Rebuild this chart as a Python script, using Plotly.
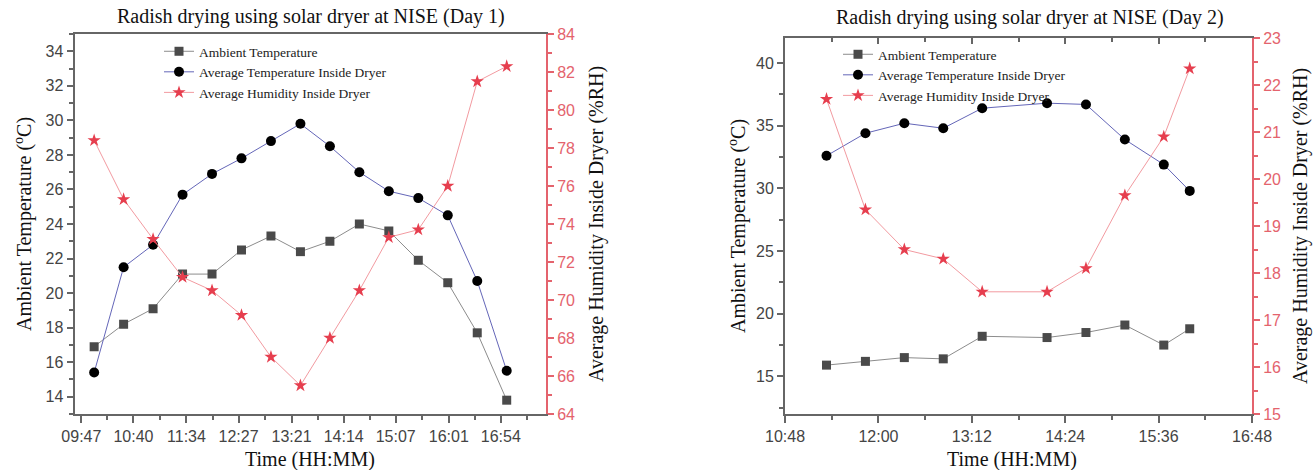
import plotly.graph_objects as go

W, H = 1314, 470

# ---------------- data ----------------
day1_times = ["10:00", "10:30", "11:00", "11:30", "12:00", "12:30", "13:00", "13:30",
              "14:00", "14:30", "15:00", "15:30", "16:00", "16:30", "17:00"]
day1_ambient = [16.9, 18.2, 19.1, 21.1, 21.1, 22.5, 23.3, 22.4, 23.0, 24.0, 23.6, 21.9, 20.6, 17.7, 13.8]
day1_inside = [15.4, 21.5, 22.8, 25.7, 26.9, 27.8, 28.8, 29.8, 28.5, 27.0, 25.9, 25.5, 24.5, 20.7, 15.5]
day1_humidity = [78.4, 75.3, 73.2, 71.2, 70.5, 69.2, 67.0, 65.5, 68.0, 70.5, 73.3, 73.7, 76.0, 81.5, 82.3]

day2_times = ["11:20", "11:50", "12:20", "12:50", "13:20", "14:10", "14:40", "15:10", "15:40", "16:00"]
day2_ambient = [15.9, 16.2, 16.5, 16.4, 18.2, 18.1, 18.5, 19.1, 17.5, 18.8]
day2_inside = [32.6, 34.4, 35.2, 34.8, 36.4, 36.8, 36.7, 33.9, 31.9, 29.8]
day2_humidity = [21.7, 19.35, 18.5, 18.3, 17.6, 17.6, 18.1, 19.65, 20.9, 22.35]

day1_xticks = ["09:47", "10:40", "11:34", "12:27", "13:21", "14:14", "15:07", "16:01", "16:54"]
day2_xticks = ["10:48", "12:00", "13:12", "14:24", "15:36", "16:48"]

series_names = ["Ambient Temperature", "Average Temperature Inside Dryer", "Average Humidity Inside Dryer"]


def to_min(s):
    h, m = s.split(":")
    return int(h) * 60 + int(m)


def mids(vals, extend=True):
    out = [(a + b) / 2 for a, b in zip(vals[:-1], vals[1:])]
    if extend:
        step = vals[1] - vals[0]
        out = [vals[0] - step / 2] + out + [vals[-1] + step / 2]
    return out


# ---------------- style ----------------
AMB_MARK, AMB_LINE = "#4a4a4a", "#8c8c8c"
IN_MARK, IN_LINE = "#000000", "#6466b8"
HUM_MARK, HUM_LINE = "#e63e4e", "#f29aa0"
RED = "#e4636d"
AX = "#666666"
TICKFONT = dict(family="Liberation Sans, Arial, sans-serif", size=16, color="#444444")
SERIF = "Liberation Serif, Times New Roman, serif"


def px_x(p):
    return p / W


def px_y(p):
    return 1 - p / H


fig = go.Figure()


def add_day(times, amb, ins, hum, xa, ya, yb, legend):
    x = [to_min(t) for t in times]
    fig.add_trace(go.Scatter(x=x, y=amb, name=series_names[0], mode="lines+markers",
                             line=dict(color=AMB_LINE, width=1),
                             marker=dict(symbol="square", size=9, color=AMB_MARK),
                             xaxis=xa, yaxis=ya, legend=legend))
    fig.add_trace(go.Scatter(x=x, y=ins, name=series_names[1], mode="lines+markers",
                             line=dict(color=IN_LINE, width=1),
                             marker=dict(symbol="circle", size=10, color=IN_MARK),
                             xaxis=xa, yaxis=ya, legend=legend))
    fig.add_trace(go.Scatter(x=x, y=hum, name=series_names[2], mode="lines+markers",
                             line=dict(color=HUM_LINE, width=1),
                             marker=dict(symbol="star", size=10, color=HUM_MARK),
                             xaxis=xa, yaxis=yb, legend=legend))


add_day(day1_times, day1_ambient, day1_inside, day1_humidity, "x", "y", "y2", "legend")
add_day(day2_times, day2_ambient, day2_inside, day2_humidity, "x2", "y3", "y4", "legend2")
# empty trace to activate the top tick axis of the right panel
fig.add_trace(go.Scatter(x=[], y=[], xaxis="x3", yaxis="y3", showlegend=False, hoverinfo="skip"))

d1_tv = [to_min(t) for t in day1_xticks]
d2_tv = [to_min(t) for t in day2_xticks]

common_x = dict(showline=True, linecolor=AX, linewidth=2, ticks="outside", ticklen=7, tickwidth=1.5,
                tickcolor=AX, showgrid=False, zeroline=False, tickfont=TICKFONT, tickmode="array",
                automargin=False)
common_y = dict(showline=True, linecolor=AX, linewidth=2, ticks="outside", ticklen=6, tickwidth=1.5,
                tickcolor=AX, showgrid=False, zeroline=False, tickfont=TICKFONT, automargin=False)
red_y = dict(showline=True, linecolor=RED, linewidth=2, ticks="outside", ticklen=6, tickwidth=1.5,
             tickcolor=RED, showgrid=False, zeroline=False, automargin=False,
             tickfont=dict(family=TICKFONT["family"], size=16, color=RED))

L_DOM = [px_x(74.5), px_x(546)]
R_DOM = [px_x(785), px_x(1252)]
L_YDOM = [px_y(414), px_y(34)]
R_YDOM = [px_y(414), px_y(38)]

fig.update_layout(
    width=W, height=H,
    margin=dict(l=0, r=0, t=0, b=0, pad=0),
    paper_bgcolor="white", plot_bgcolor="white",
    showlegend=True,
    xaxis=dict(domain=L_DOM, range=[580, 1060], anchor="y", mirror=True,
               tickvals=d1_tv, ticktext=day1_xticks,
               minor=dict(tickmode="array", tickvals=mids(d1_tv), ticks="outside", ticklen=4,
                          tickcolor=AX, tickwidth=1.5), **common_x),
    yaxis=dict(domain=L_YDOM, range=[13, 35], anchor="x", tick0=14, dtick=2,
               minor=dict(dtick=1, tick0=13, ticks="outside", ticklen=4, tickcolor=AX, tickwidth=1.5),
               **common_y),
    yaxis2=dict(overlaying="y", side="right", anchor="x", range=[64, 84], tick0=64, dtick=2,
                minor=dict(dtick=1, tick0=64, ticks="outside", ticklen=4, tickcolor=RED, tickwidth=1.5),
                **red_y),
    xaxis2=dict(domain=R_DOM, range=[648, 1008], anchor="y3", mirror=True,
                tickvals=d2_tv, ticktext=day2_xticks,
                minor=dict(tickmode="array", tickvals=mids(d2_tv, extend=False), ticks="outside", ticklen=4,
                           tickcolor=AX, tickwidth=1.5), **common_x),
    xaxis3=dict(overlaying="x2", side="top", anchor="y3", range=[648, 1008], showline=False,
                tickmode="array", tickvals=d2_tv, showticklabels=False, ticks="inside", ticklen=6,
                tickcolor=AX, tickwidth=1.5, showgrid=False, zeroline=False, automargin=False,
                minor=dict(tickmode="array", tickvals=mids(d2_tv, extend=False), ticks="inside", ticklen=4,
                           tickcolor=AX, tickwidth=1.5)),
    yaxis3=dict(domain=R_YDOM, range=[12, 42], anchor="x2", tick0=15, dtick=5,
                minor=dict(dtick=2.5, tick0=12.5, ticks="outside", ticklen=4, tickcolor=AX, tickwidth=1.5),
                **common_y),
    yaxis4=dict(overlaying="y3", side="right", anchor="x2", range=[15, 23], tick0=15, dtick=1,
                minor=dict(dtick=0.5, tick0=15, ticks="outside", ticklen=4, tickcolor=RED, tickwidth=1.5),
                **red_y),
    legend=dict(x=px_x(159), y=px_y(36), xanchor="left", yanchor="top", bgcolor="rgba(0,0,0,0)",
                font=dict(family=SERIF, size=13.5, color="#222222"), tracegroupgap=0),
    legend2=dict(x=px_x(838), y=px_y(39), xanchor="left", yanchor="top", bgcolor="rgba(0,0,0,0)",
                 font=dict(family=SERIF, size=13.5, color="#222222"), tracegroupgap=0),
)

ann = []


def text(x, y, s, size, angle=0):
    ann.append(dict(x=px_x(x), y=px_y(y), xref="paper", yref="paper", text=s, showarrow=False,
                    xanchor="center", yanchor="middle", textangle=angle,
                    font=dict(family=SERIF, size=size, color="#111111")))


text(311, 16, "Radish drying using solar dryer at NISE (Day 1)", 20)
text(1030, 18, "Radish drying using solar dryer at NISE (Day 2)", 20)
text(310, 459, "Time (HH:MM)", 20)
text(1012, 459, "Time (HH:MM)", 20)
text(23, 224, "Ambient Temperature (<sup>o</sup>C)", 20, -90)
text(596, 224, "Average Humidity Inside Dryer (%RH)", 20, -90)
text(738, 226, "Ambient Temperature (<sup>o</sup>C)", 20, -90)
text(1301, 226, "Average Humidity Inside Dryer (%RH)", 20, -90)
fig.update_layout(annotations=ann)

fig.write_html("out.html")
